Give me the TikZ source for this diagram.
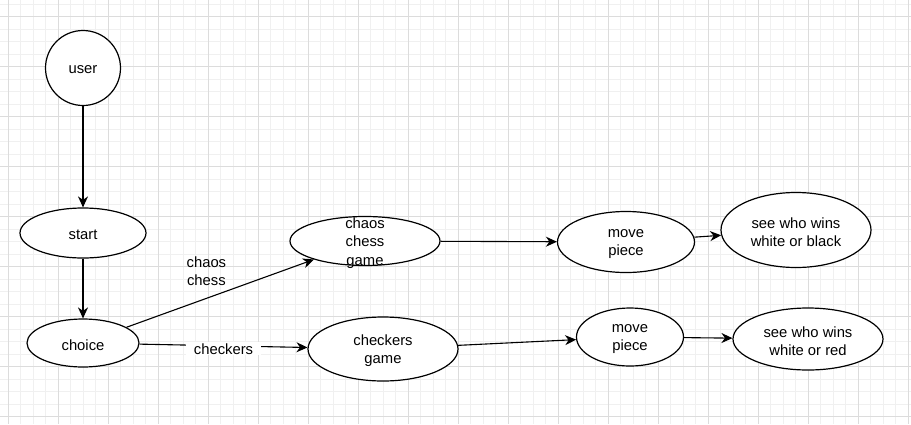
\documentclass[tikz,border=0pt]{standalone}
\usepackage{fontspec}
\setmainfont{Liberation Sans}
\usetikzlibrary{shapes.geometric,arrows.meta}
\definecolor{gridminor}{HTML}{F0F0F0}
\definecolor{gridmajor}{HTML}{DCDCDC}
\tikzset{
  bubble/.style={ellipse, draw=black, line width=1.2pt, fill=white, inner sep=0pt},
  lab/.style={font=\fontsize{14.8}{18.2}\selectfont, align=center, text=black},
  inlab/.style={lab, yshift=-2pt},
  flow/.style={draw=black, line width=1.1pt, -{Stealth[length=11pt,width=10pt,inset=3.5pt]}},
  minor/.style={draw=gridminor, line width=0.8pt},
  major/.style={draw=gridmajor, line width=0.8pt},
}

\begin{document}
\begin{tikzpicture}[x=1pt,y=-1pt]
  \useasboundingbox (0,0) rectangle (911,424);
  \fill[white] (0,0) rectangle (911,424);

  % grid
  \foreach \gx in {8.33,20.83,...,911} \draw[minor] (\gx,0) -- (\gx,424);
  \foreach \gy in {4.17,16.67,...,424} \draw[minor] (0,\gy) -- (911,\gy);
  \foreach \gx in {8.33,58.33,...,911} \draw[major] (\gx,0) -- (\gx,424);
  \foreach \gy in {16.67,66.67,...,424} \draw[major] (0,\gy) -- (911,\gy);

  \node[bubble, minimum width=75pt, minimum height=75pt, label={[inlab]center:user}] (user) at (83,68) {};
  \node[bubble, minimum width=126pt, minimum height=50pt, label={[inlab]center:start}] (start) at (83,233) {};
  \node[bubble, minimum width=112pt, minimum height=48pt, label={[inlab]center:choice}] (choice) at (83,343) {};

  \node[bubble, minimum width=150pt, minimum height=49pt, label={[inlab]center:{chaos\\chess\\game}}] (chaosgame) at (365,241) {};
  \node[bubble, minimum width=137pt, minimum height=61pt, label={[inlab]center:{move\\piece}}] (chessmove) at (626,242) {};
  \node[bubble, minimum width=150pt, minimum height=75pt, label={[inlab]center:{see who wins\\white or black}}] (chesswin) at (796,230) {};

  \node[bubble, minimum width=150pt, minimum height=64pt, label={[inlab]center:{checkers\\game}}] (checkgame) at (383,349) {};
  \node[bubble, minimum width=107pt, minimum height=58pt, label={[inlab]center:{move\\piece}}] (checkmove) at (630,337) {};
  \node[bubble, minimum width=150pt, minimum height=62pt, label={[inlab]center:{see who wins\\white or red}}] (checkwin) at (808,339) {};

  \draw[flow] (user) -- (start);
  \draw[flow] (start) -- (choice);
  \draw[flow] (choice) -- node[lab, pos=0.54, anchor=south east, inner sep=1pt, yshift=3pt] {chaos\\chess} (chaosgame);
  \draw[flow] (choice) -- node[lab, fill=white, inner xsep=8pt, inner ysep=1pt, yshift=-3pt] {checkers} (checkgame);
  \draw[flow] (chaosgame) -- (chessmove);
  \draw[flow] (chessmove) -- (chesswin);
  \draw[flow] (checkgame) -- (checkmove);
  \draw[flow] (checkmove) -- (checkwin);
\end{tikzpicture}
\end{document}
